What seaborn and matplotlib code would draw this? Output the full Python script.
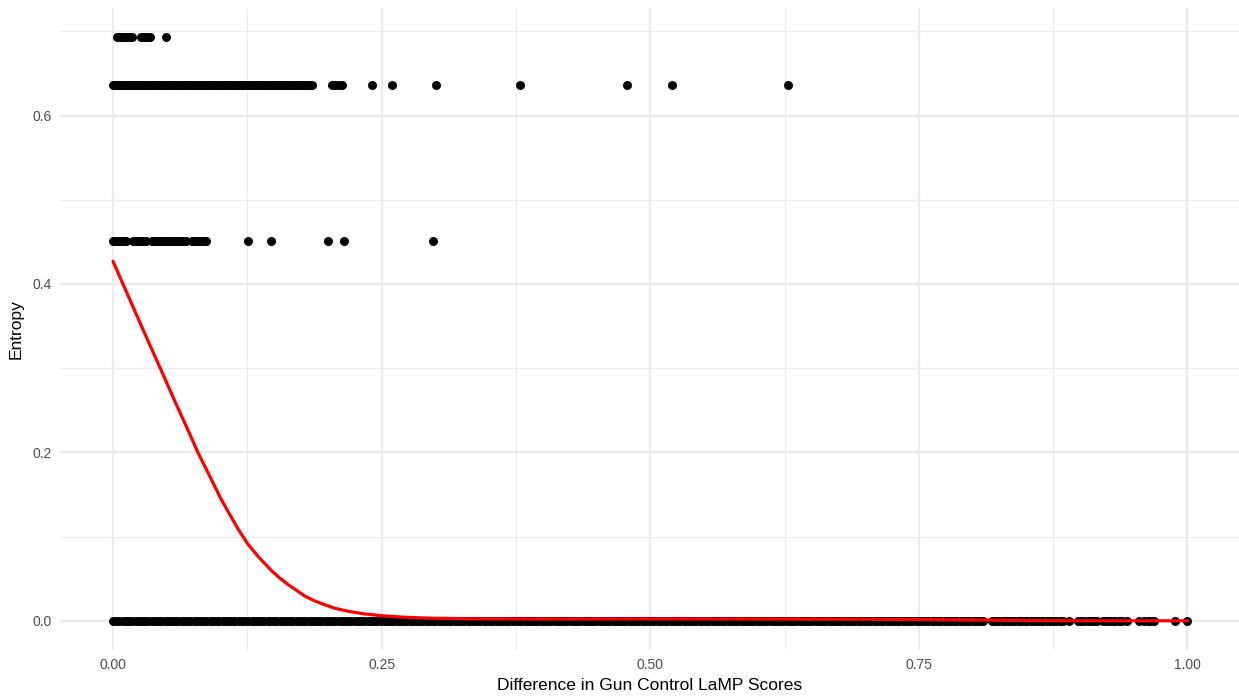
import pandas as pd
import matplotlib
matplotlib.use("Agg")
import matplotlib.pyplot as plt
from matplotlib.ticker import FixedLocator
import seaborn as sns

# %% entropy levels and the score differences observed at each level
ent_high = 0.6931
ent_mid = 0.6365
ent_low = 0.4506
ent_zero = 0.0

x_high = [0.004, 0.006, 0.008, 0.011, 0.013, 0.015, 0.018,
          0.026, 0.028, 0.030, 0.032, 0.034, 0.049]

x_mid = [0.000, 0.002, 0.004, 0.006, 0.008, 0.010, 0.012, 0.014, 0.016, 0.018,
         0.020, 0.022, 0.024, 0.026, 0.028, 0.030, 0.032, 0.034, 0.036, 0.038,
         0.040, 0.042, 0.044, 0.046, 0.048, 0.050, 0.052, 0.054, 0.056, 0.058,
         0.060, 0.062, 0.064, 0.066, 0.068, 0.070, 0.072, 0.074, 0.076, 0.078,
         0.080, 0.082, 0.084, 0.086, 0.088, 0.090, 0.092, 0.094, 0.096, 0.098,
         0.100, 0.102, 0.104, 0.106, 0.108, 0.110, 0.112, 0.114, 0.116, 0.118,
         0.120, 0.122, 0.124, 0.126, 0.128, 0.130, 0.132, 0.134, 0.136, 0.138,
         0.140, 0.142, 0.144, 0.146, 0.148, 0.150, 0.152, 0.154, 0.156, 0.158,
         0.160, 0.162, 0.164, 0.166, 0.168, 0.170, 0.172, 0.174, 0.176, 0.178,
         0.180, 0.182, 0.185,
         0.204, 0.207, 0.210, 0.213, 0.241, 0.260, 0.301, 0.379, 0.478, 0.520, 0.628]

x_low = [0.000, 0.002, 0.004, 0.006, 0.008, 0.010, 0.012,
         0.019, 0.021, 0.023, 0.025, 0.027, 0.029, 0.031,
         0.036, 0.038, 0.040, 0.042, 0.044, 0.046, 0.048, 0.050, 0.052, 0.054,
         0.056, 0.058, 0.060, 0.062, 0.064, 0.066, 0.068,
         0.074, 0.076, 0.078, 0.080, 0.083, 0.085, 0.087,
         0.126, 0.147, 0.200, 0.215, 0.298]

x_zero = [0.000, 0.003, 0.006, 0.009, 0.012, 0.015, 0.018, 0.021, 0.024, 0.027,
          0.030, 0.033, 0.036, 0.039, 0.042, 0.045, 0.048, 0.051, 0.054, 0.057,
          0.060, 0.063, 0.066, 0.069, 0.072, 0.075, 0.078, 0.081, 0.084, 0.087,
          0.090, 0.093, 0.096, 0.099, 0.102, 0.105, 0.108, 0.111, 0.114, 0.117,
          0.120, 0.123, 0.126, 0.129, 0.132, 0.135, 0.138, 0.141, 0.144, 0.147,
          0.150, 0.153, 0.156, 0.159, 0.162, 0.165, 0.168, 0.171, 0.174, 0.177,
          0.180, 0.183, 0.186, 0.189, 0.192, 0.195, 0.198, 0.201, 0.204, 0.207,
          0.210, 0.213, 0.216, 0.219, 0.222, 0.225, 0.228, 0.231, 0.234, 0.237,
          0.240, 0.243, 0.246, 0.249, 0.252, 0.255, 0.258, 0.261, 0.264, 0.267,
          0.270, 0.273, 0.276, 0.279, 0.282, 0.285, 0.288, 0.291, 0.294, 0.297,
          0.300, 0.303, 0.306, 0.309, 0.312, 0.315, 0.318, 0.321, 0.324, 0.327,
          0.330, 0.333, 0.336, 0.339, 0.342, 0.345, 0.348, 0.351, 0.354, 0.357,
          0.360, 0.363, 0.366, 0.369, 0.372, 0.375, 0.378, 0.381, 0.384, 0.387,
          0.390, 0.393, 0.396, 0.399, 0.402, 0.405, 0.408, 0.411, 0.414, 0.417,
          0.420, 0.423, 0.426, 0.429, 0.432, 0.435, 0.438, 0.441, 0.444, 0.447,
          0.450, 0.453, 0.456, 0.459, 0.462, 0.465, 0.468, 0.471, 0.474, 0.477,
          0.480, 0.483, 0.486, 0.489, 0.492, 0.495, 0.498, 0.501, 0.504, 0.507,
          0.510, 0.513, 0.516, 0.519, 0.522, 0.525, 0.528, 0.531, 0.534, 0.537,
          0.540, 0.543, 0.546, 0.549, 0.552, 0.555, 0.558, 0.561, 0.564, 0.567,
          0.570, 0.573, 0.576, 0.579, 0.582, 0.585, 0.588, 0.591, 0.594, 0.597,
          0.600, 0.603, 0.606, 0.609, 0.612, 0.615, 0.618, 0.621, 0.624, 0.627,
          0.630, 0.633, 0.636, 0.639, 0.642, 0.645, 0.648, 0.651, 0.654, 0.657,
          0.660, 0.663, 0.666, 0.669, 0.672, 0.675, 0.678, 0.681, 0.684, 0.687,
          0.690, 0.693, 0.696, 0.699, 0.702, 0.705, 0.708, 0.711, 0.714, 0.717,
          0.720, 0.723, 0.726, 0.729, 0.732, 0.735, 0.738, 0.741, 0.744, 0.747,
          0.750, 0.753, 0.756, 0.759, 0.762, 0.765, 0.768, 0.771, 0.774, 0.777,
          0.780, 0.783, 0.786, 0.789, 0.792, 0.795, 0.798, 0.801, 0.804, 0.807,
          0.810,
          0.818, 0.821, 0.824, 0.827, 0.830, 0.833, 0.836, 0.839, 0.842, 0.845,
          0.848, 0.851, 0.854, 0.857, 0.860, 0.863, 0.866, 0.869, 0.872, 0.875,
          0.878, 0.881, 0.884, 0.890,
          0.898, 0.901, 0.904, 0.907, 0.910, 0.913, 0.916,
          0.921, 0.924, 0.927, 0.930, 0.933, 0.936, 0.939, 0.944,
          0.955, 0.960, 0.963, 0.966, 0.969, 0.988, 1.000]

# smoothed fit
smooth_x = [0.000, 0.010, 0.020, 0.030, 0.044, 0.060, 0.070, 0.079, 0.090, 0.100,
            0.107, 0.116, 0.125, 0.136, 0.148, 0.155, 0.163, 0.171, 0.179, 0.187,
            0.195, 0.206, 0.218, 0.233, 0.250, 0.270, 0.295, 0.340, 0.400, 0.500,
            0.600, 0.700, 0.750, 0.800, 0.850, 0.900, 1.000]
smooth_y = [0.427, 0.398, 0.369, 0.340, 0.300, 0.254, 0.226, 0.200, 0.172, 0.146,
            0.130, 0.110, 0.092, 0.075, 0.059, 0.051, 0.043, 0.036, 0.029, 0.024,
            0.020, 0.015, 0.0115, 0.0083, 0.0060, 0.0043, 0.0031, 0.0023, 0.0021, 0.0022,
            0.0021, 0.0018, 0.0015, 0.0010, 0.0004, 0.0, 0.0]

# %% build the tables
pts = pd.concat([
    pd.DataFrame({'diff': x_high, 'entropy': ent_high}),
    pd.DataFrame({'diff': x_mid, 'entropy': ent_mid}),
    pd.DataFrame({'diff': x_low, 'entropy': ent_low}),
    pd.DataFrame({'diff': x_zero, 'entropy': ent_zero}),
], ignore_index=True)
fit = pd.DataFrame({'diff': smooth_x, 'entropy': smooth_y})

# %% plot
sns.set_theme(style='whitegrid')
plt.rcParams['font.family'] = ['Liberation Sans', 'DejaVu Sans']

fig = plt.figure(figsize=(12.39, 6.96), dpi=100)
ax = fig.add_axes([60 / 1239, 1 - 650 / 696, 1 - 60 / 1239, 642 / 696])

sns.scatterplot(data=pts, x='diff', y='entropy', ax=ax, color='black',
                s=42, linewidth=0, zorder=3)
sns.lineplot(data=fit, x='diff', y='entropy', ax=ax, color='#FF0000',
             linewidth=2.3, zorder=4)

ax.set_xlim(-0.0493, 1.048)
ax.set_ylim(-0.0347, 0.7278)
ax.xaxis.set_major_locator(FixedLocator([0, 0.25, 0.5, 0.75, 1.0]))
ax.xaxis.set_minor_locator(FixedLocator([0.125, 0.375, 0.625, 0.875]))
ax.yaxis.set_major_locator(FixedLocator([0, 0.2, 0.4, 0.6]))
ax.yaxis.set_minor_locator(FixedLocator([0.1, 0.3, 0.5, 0.7]))
ax.set_xticklabels(['0.00', '0.25', '0.50', '0.75', '1.00'])
ax.set_yticklabels(['0.0', '0.2', '0.4', '0.6'])

ax.set_facecolor('white')
ax.grid(which='major', color='#EBEBEB', linewidth=1.6)
ax.grid(which='minor', color='#EBEBEB', linewidth=0.8)
ax.tick_params(which='both', length=0, labelsize=10, labelcolor='#4D4D4D', pad=6)
sns.despine(ax=ax, left=True, bottom=True)

ax.set_xlabel('Difference in Gun Control LaMP Scores', fontsize=12.5, color='black', labelpad=4)
ax.set_ylabel('Entropy', fontsize=12.5, color='black', labelpad=6)

plt.savefig('out.png', dpi=100)
